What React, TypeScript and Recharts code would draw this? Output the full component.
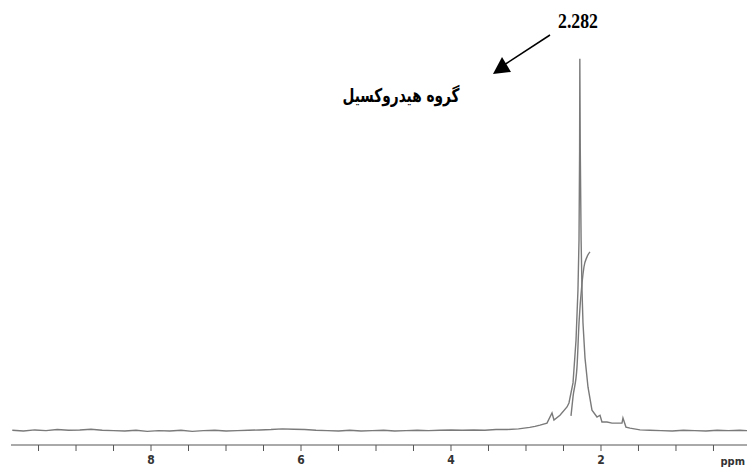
import { LineChart, Line, XAxis, YAxis } from 'recharts'

// chemical shift (ppm) and intensity
const spectrumPpm = [
    9.85, 9.7, 9.55, 9.4, 9.25, 9.1, 8.95, 8.8, 8.65, 8.5, 8.35, 8.2, 8.05, 7.9, 7.75, 7.6, 7.45, 7.3, 7.15, 7.0,
    6.85, 6.7, 6.55, 6.4, 6.25, 6.1, 5.95, 5.8, 5.65, 5.5, 5.35, 5.2, 5.05, 4.9, 4.75, 4.6, 4.45, 4.3, 4.15, 4.0,
    3.85, 3.7, 3.55, 3.4, 3.25, 3.1, 2.95, 2.88, 2.813, 2.72, 2.653, 2.627, 2.547, 2.453, 2.427, 2.373, 2.333,
    2.307, 2.293, 2.285, 2.282, 2.276, 2.265, 2.253, 2.24, 2.213, 2.173, 2.12, 2.053, 2.013, 1.987, 1.92, 1.853,
    1.72, 1.707, 1.667, 1.613, 1.48, 1.35, 1.2, 1.05, 0.9, 0.75, 0.6, 0.45, 0.3, 0.15, 0.05,
]
const spectrumIntensity = [
    0.1, -0.1, 0.2, 0.0, 0.3, 0.1, 0.2, 0.4, 0.1, 0.0, -0.1, 0.1, -0.2, 0.0, -0.1, 0.1, -0.2, 0.0, 0.1, -0.1,
    0.0, 0.1, 0.2, 0.3, 0.5, 0.4, 0.3, 0.1, 0.0, -0.1, 0.1, -0.1, 0.0, 0.1, -0.1, 0.0, 0.1, 0.0, 0.1, 0.2,
    0.1, 0.2, 0.1, 0.3, 0.3, 0.5, 0.9, 1.2, 1.55, 2.1, 4.9, 2.95, 4.3, 6.6, 7.7, 13.3, 25.2,
    39.2, 53.1, 78.2, 103.6, 78.2, 53.1, 39.2, 30.0, 20.2, 12.1, 5.7, 3.8, 4.3, 2.4, 2.4, 2.1,
    2.1, 3.5, 1.0, 0.7, 0.2, 0.1, 0.0, -0.1, 0.1, 0.0, -0.1, 0.1, 0.0, 0.1, 0.0,
]

// integral trace over the main peak
const integralPpm = [2.4, 2.373, 2.32, 2.293, 2.253, 2.227, 2.187, 2.147]
const integralValues = [4.1, 9.4, 17.7, 30.0, 41.1, 45.6, 48.4, 49.8]

const axisTicks = [0.5, 1, 1.5, 2, 2.5, 3, 3.5, 4, 4.5, 5, 5.5, 6, 6.5, 7, 7.5, 8, 8.5, 9, 9.5]
const labelledTicks = [2, 4, 6, 8]

const peakLabel = '2.282'
const groupLabel = 'گروه هیدروکسیل'
const unitLabel = 'ppm'

const spectrum = spectrumPpm.map((ppm, i) => ({ ppm, v: spectrumIntensity[i] }))
const integral = integralPpm.map((ppm, i) => ({ ppm, v: integralValues[i] }))

const tickFont = "'Liberation Sans Narrow', 'DejaVu Sans Condensed', sans-serif"

export default function App() {
    return (
        <div style={{ position: 'absolute', left: 0, top: 0, width: 747, height: 470, background: '#fff' }}>
            <LineChart width={747} height={470} margin={{ top: 0, right: 0, left: 11, bottom: 0 }}>
                <XAxis
                    dataKey="ppm"
                    type="number"
                    domain={[0.053, 9.867]}
                    reversed
                    ticks={axisTicks}
                    interval={0}
                    allowDataOverflow
                    height={25}
                    stroke="#555"
                    tickSize={6}
                    tickMargin={4}
                    tickFormatter={(t: number) => (labelledTicks.includes(t) ? String(t) : '')}
                    tick={{ fontSize: 12, fill: '#333', fontFamily: tickFont, fontWeight: 700 }}
                />
                <YAxis hide type="number" domain={[-4, 120]} allowDataOverflow />
                <Line
                    data={spectrum}
                    dataKey="v"
                    type="linear"
                    stroke="#7a7a7a"
                    strokeWidth={1.4}
                    dot={false}
                    isAnimationActive={false}
                />
                <Line
                    data={integral}
                    dataKey="v"
                    type="monotone"
                    stroke="#7a7a7a"
                    strokeWidth={1.4}
                    dot={false}
                    isAnimationActive={false}
                />
            </LineChart>
            <svg width={747} height={470} style={{ position: 'absolute', left: 0, top: 0, pointerEvents: 'none' }}>
                <text
                    x={578}
                    y={28}
                    textAnchor="middle"
                    fontFamily="'Liberation Serif', serif"
                    fontWeight={700}
                    fontSize={22}
                    textLength={40}
                    lengthAdjust="spacingAndGlyphs"
                    fill="#000"
                >
                    {peakLabel}
                </text>
                <line x1={550} y1={35} x2={504} y2={65} stroke="#000" strokeWidth={1.5} />
                <polygon points="493,74 502,57 511,72" fill="#000" />
                <text
                    x={401}
                    y={102}
                    textAnchor="middle"
                    fontFamily="'DejaVu Sans', sans-serif"
                    fontWeight={700}
                    fontSize={19}
                    textLength={117}
                    lengthAdjust="spacingAndGlyphs"
                    fill="#000"
                >
                    {groupLabel}
                </text>
                <text
                    x={745}
                    y={465}
                    textAnchor="end"
                    fontFamily={tickFont}
                    fontWeight={700}
                    fontSize={11}
                    fill="#333"
                >
                    {unitLabel}
                </text>
            </svg>
        </div>
    )
}
